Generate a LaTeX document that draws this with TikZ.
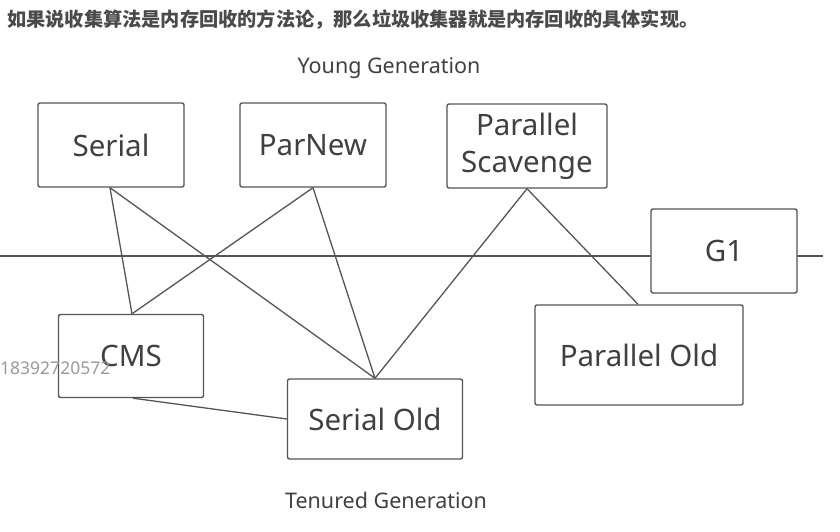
\documentclass[tikz,border=0pt]{standalone}
\usepackage{fontspec}
\setmainfont{Noto Sans}
\newfontfamily\cjk{Noto Sans CJK SC}
\definecolor{txt}{HTML}{404040}
\definecolor{edge}{HTML}{555555}
\definecolor{hdr}{HTML}{4A4A4A}
\begin{document}
\begin{tikzpicture}[x=1pt,y=-1pt,
  gcbox/.style={draw=edge,line width=1.4pt,rounded corners=2pt,fill=white,text=txt,
    font=\fontsize{29.5}{34}\selectfont,inner sep=0pt,align=center},
  link/.style={draw=edge,line width=1.3pt},
  gen/.style={text=txt,font=\fontsize{21.5}{25}\selectfont}]
\useasboundingbox (0,0) rectangle (840,532);
\node[anchor=west,text=hdr,font=\cjk\bfseries\fontsize{19.2}{23}\selectfont,inner sep=0pt] (hd) at (7,20) {如果说收集算法是内存回收的方法论，那么垃圾收集器就是内存回收的具体实现。};
\coordinate (hl) at (0,256);
\coordinate (hr) at (823,256);
\draw[link] (hl) -- (hr);
\node[gen] (young) at (389,68) {Young Generation};
\node[gen] (tenured) at (386,500) {Tenured Generation};
\node[gcbox,minimum width=146pt,minimum height=84pt] (serial) at (111,145) {Serial};
\node[gcbox,minimum width=146pt,minimum height=84pt] (parnew) at (313,145) {ParNew};
\node[gcbox,minimum width=160pt,minimum height=84pt,font=\fontsize{29.5}{37}\selectfont] (ps) at (527,146) {Parallel\\Scavenge};
\node[gcbox,minimum width=146pt,minimum height=84pt] (g1) at (724,251) {G1};
\node[gcbox,minimum width=208pt,minimum height=100pt] (po) at (639,355) {Parallel Old};
\node[gcbox,minimum width=145pt,minimum height=83pt] (cms) at (131,356) {CMS};
\node[gcbox,minimum width=175pt,minimum height=80pt] (so) at (375,419) {Serial Old};
\node[anchor=west,text=black!40,font=\fontsize{17.5}{20}\selectfont,inner sep=0pt] (wm) at (0,368) {18392720572};
\draw[link] ([xshift=-1pt]serial.south) -- ([xshift=1pt]cms.north);
\draw[link] ([xshift=-1pt]serial.south) -- (so.north);
\draw[link] (parnew.south) -- ([xshift=1pt]cms.north);
\draw[link] (parnew.south) -- (so.north);
\draw[link] (ps.south) -- (so.north);
\draw[link] (ps.south) -- ([xshift=-1pt]po.north);
\draw[link] ([xshift=2pt]cms.south) -- (so.west);
\end{tikzpicture}
\end{document}
